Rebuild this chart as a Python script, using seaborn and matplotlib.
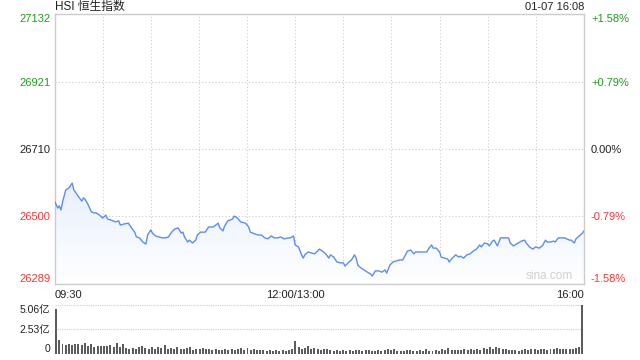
import numpy as np
import pandas as pd
import matplotlib
matplotlib.use("Agg")
import matplotlib.pyplot as plt
import seaborn as sns
from matplotlib.colors import LinearSegmentedColormap

# HSI intraday, minutes after 09:30 (lunch break squeezed out)
minutes = [0, 2, 3, 4, 5, 7, 9, 11, 12, 13, 15, 17, 18, 19, 21, 23, 25, 26, 28, 30,
           32, 33, 35, 38, 40, 41, 43, 46, 48, 50, 51, 53, 55, 57, 58, 60, 61, 63, 65, 67,
           69, 71, 73, 75, 77, 79, 80, 81, 83, 84, 86, 88, 89, 91, 94, 96, 98, 99, 102, 103,
           105, 106, 108, 111, 112, 114, 116, 119, 121, 122, 125, 127, 129, 131, 133, 135, 137, 139, 141, 143,
           146, 147, 149, 150, 152, 154, 155, 156, 158, 160, 162, 164, 165, 167, 169, 171, 172, 174, 176, 178,
           180, 181, 183, 185, 187, 188, 189, 191, 193, 195, 197, 198, 200, 202, 204, 206, 207, 209, 211, 213,
           215, 217, 218, 220, 222, 224, 225, 227, 230, 232, 233, 235, 236, 238, 240, 241, 243, 245, 246, 248,
           250, 252, 253, 255, 257, 259, 261, 263, 265, 266, 268, 270, 271, 273, 274, 276, 278, 280, 281, 283,
           284, 286, 288, 289, 291, 293, 294, 296, 298, 300, 302, 304, 306, 307, 309, 311, 312, 314, 316, 318,
           319, 321, 322, 324, 325, 327, 329, 330]
prices = [26548, 26526, 26533, 26520, 26545, 26583, 26589, 26604, 26583, 26576, 26561, 26548, 26558, 26554, 26536, 26514, 26511, 26511, 26504, 26495,
          26504, 26492, 26489, 26483, 26486, 26473, 26476, 26479, 26464, 26451, 26436, 26433, 26420, 26414, 26442, 26458, 26448, 26439, 26436, 26433,
          26433, 26436, 26451, 26461, 26464, 26448, 26451, 26436, 26420, 26426, 26417, 26426, 26442, 26451, 26451, 26467, 26467, 26467, 26479, 26464,
          26455, 26470, 26486, 26492, 26501, 26495, 26483, 26479, 26467, 26451, 26445, 26442, 26442, 26433, 26430, 26439, 26433, 26433, 26436, 26430,
          26433, 26433, 26439, 26411, 26405, 26380, 26370, 26380, 26389, 26386, 26383, 26392, 26398, 26392, 26383, 26370, 26380, 26373, 26358, 26355,
          26355, 26345, 26355, 26364, 26380, 26370, 26348, 26339, 26333, 26326, 26320, 26314, 26330, 26330, 26326, 26333, 26323, 26348, 26358, 26361,
          26364, 26364, 26373, 26392, 26395, 26383, 26389, 26389, 26389, 26389, 26398, 26411, 26401, 26401, 26389, 26373, 26370, 26367, 26358, 26370,
          26380, 26373, 26376, 26370, 26380, 26383, 26392, 26398, 26411, 26405, 26417, 26414, 26408, 26423, 26426, 26408, 26433, 26433, 26433, 26433,
          26417, 26408, 26414, 26417, 26423, 26426, 26417, 26405, 26398, 26405, 26401, 26408, 26426, 26420, 26420, 26423, 26420, 26433, 26433, 26433,
          26430, 26426, 26426, 26417, 26430, 26439, 26448, 26455]
prev_close = 26710

price_ticks = [26289, 26500, 26710, 26921, 27132]
price_labels = ['26289', '26500', '26710', '26921', '27132']
pct_labels = ['-1.58%', '-0.79%', '0.00%', '+0.79%', '+1.58%']
grid_minutes = [0, 30, 60, 90, 120, 150, 180, 210, 240, 270, 300, 330]
time_labels = ['09:30', '', '', '', '', '12:00/13:00', '', '', '', '', '', '16:00']

# volume (亿), one bar every 2 minutes
vol_minutes = list(range(0, 331, 2))
volumes = [4.65, 1.45,
           1.0, 0.95, 1.0, 0.9, 1.0, 1.05, 0.95, 1.1, 0.85, 1.0, 0.75, 0.85, 0.8,
           0.85, 0.8, 0.9, 0.75, 1.1, 0.7, 1.05, 0.65, 0.55, 0.6, 0.55, 0.7, 0.85, 0.6, 0.55,
           0.75, 0.5, 0.7, 0.6, 0.9, 0.55, 0.65, 0.5, 0.75, 0.55, 0.5, 0.65, 0.7, 0.45, 0.55, 0.5, 0.6, 0.5, 0.55, 0.45,
           0.5, 0.45, 0.4, 0.5, 0.45, 0.55, 0.4, 0.5, 0.6, 0.45, 0.65, 0.4, 0.5, 0.45, 0.4, 0.45, 0.35, 0.4, 0.35, 0.4,
           0.35, 0.45, 0.35, 0.4, 0.5,
           1.3, 0.75, 0.55, 0.65, 0.8, 0.5, 0.6, 0.55, 0.45, 0.5, 0.5, 0.4, 0.35, 0.4, 0.35,
           0.4, 0.35, 0.4, 0.35, 0.45, 0.4, 0.35, 0.4, 0.45, 0.35, 0.3, 0.4, 0.35, 0.45, 0.55, 0.4, 0.5, 0.35, 0.3, 0.35,
           0.4, 0.45, 0.3, 0.3, 0.4, 0.35, 0.55, 0.3, 0.35, 0.4, 0.35, 0.5, 0.45, 0.6, 0.4,
           0.45, 0.4, 0.45, 0.5, 0.45, 0.5, 0.4, 0.55, 0.45, 0.6, 0.5, 0.7, 0.55, 0.75, 0.6, 0.55, 0.5, 0.45, 0.4, 0.45,
           0.35, 0.45, 0.5, 0.45, 0.55,
           0.5, 0.45, 0.55, 0.5, 0.45, 0.55, 0.5, 0.6, 0.55, 0.5, 0.55, 0.55, 0.5, 0.6, 0.75,
           5.06]
vol_ticks = [0, 2.53, 5.06]
vol_labels = ['0', '2.53亿', '5.06亿']

GREEN = '#1d9f1d'
RED = '#f03a3a'
LINE = '#5a8ef0'
GRID = '#cccccc'

sns.set_style("white")
plt.rcParams['font.family'] = ['Liberation Sans', 'Noto Sans CJK SC']

fig = plt.figure(figsize=(6.4, 3.6), dpi=100)
ax = fig.add_axes([0.0852, 0.2111, 0.8273, 0.75])
vax = fig.add_axes([0.0852, 0.0167, 0.8273, 0.1361])

df = pd.DataFrame({'minute': minutes, 'price': prices})
lo, hi = price_ticks[0], price_ticks[-1]

# light blue gradient under the line
fill = ax.fill_between(df['minute'], df['price'], lo, color='none', lw=0)
fade = LinearSegmentedColormap.from_list('fade', ['#ffffff', '#e8f0fd'])
grad = np.linspace(0, 1, 256).reshape(-1, 1)
im = ax.imshow(grad, extent=[0, 330, lo, df['price'].max()], origin='lower',
               aspect='auto', cmap=fade, zorder=1)
im.set_clip_path(fill.get_paths()[0], transform=ax.transData)

sns.lineplot(data=df, x='minute', y='price', ax=ax, color=LINE, lw=1.0, zorder=3)

ax.set_xlim(0, 330)
ax.set_ylim(lo, hi)
ax.set_xlabel('')
ax.set_ylabel('')
ax.set_xticks(grid_minutes)
ax.set_xticklabels(time_labels, fontsize=8, color='#222222')
ax.get_xticklabels()[0].set_ha('left')
ax.get_xticklabels()[-1].set_ha('right')
ax.set_yticks(price_ticks)
ax.set_yticklabels(price_labels, fontsize=8)
ax.tick_params(length=0, pad=3)
ax.tick_params(axis='x', pad=4)
ax.grid(True, color=GRID, ls=(0, (1, 2)), lw=0.8)
for s in ax.spines.values():
    s.set_color(GRID)
    s.set_linewidth(1)

def colour(v):
    if v > prev_close:
        return GREEN
    if v < prev_close:
        return RED
    return '#222222'

for lab, v in zip(ax.get_yticklabels(), price_ticks):
    lab.set_color(colour(v))
ax.get_yticklabels()[0].set_va('bottom')
ax.get_yticklabels()[-1].set_va('top')

tx = ax.twinx()
tx.set_ylim(lo, hi)
tx.set_yticks(price_ticks)
tx.set_yticklabels(pct_labels, fontsize=8)
tx.tick_params(length=0, pad=5)
for s in tx.spines.values():
    s.set_visible(False)
for lab, v in zip(tx.get_yticklabels(), price_ticks):
    lab.set_color(colour(v))
tx.get_yticklabels()[0].set_va('bottom')
tx.get_yticklabels()[-1].set_va('top')

ax.text(0.979, 0.008, 'sina.com', transform=ax.transAxes, ha='right', va='bottom',
        fontsize=8.5, color='#d0d0d0', zorder=2)

# volume panel
sns.barplot(x=vol_minutes, y=volumes, ax=vax, native_scale=True, color='#5c5c5c',
            saturation=1, width=0.62, errorbar=None, linewidth=0)
vax.set_xlim(-1, 331)
vax.set_ylim(0, vol_ticks[-1])
vax.set_xticks([])
vax.set_yticks(vol_ticks)
vax.set_yticklabels(vol_labels, fontsize=7.5, color='#222222')
vax.get_yticklabels()[0].set_va('bottom')
vax.get_yticklabels()[-1].set_va('top')
vax.tick_params(length=0, pad=3)
vax.set_xlabel('')
vax.set_ylabel('')
for s in vax.spines.values():
    s.set_visible(False)
vax.hlines(vol_ticks[1:], -1, 331, color=GRID, ls=(0, (1, 1)), lw=0.8, clip_on=False, zorder=0)

fig.text(55 / 640, 1 - 7 / 360, 'HSI 恒生指数', ha='left', va='center', fontsize=8.5, color='#222222')
fig.text(584 / 640, 1 - 7 / 360, '01-07 16:08', ha='right', va='center', fontsize=8, color='#222222')

fig.savefig('out.png', dpi=100)
